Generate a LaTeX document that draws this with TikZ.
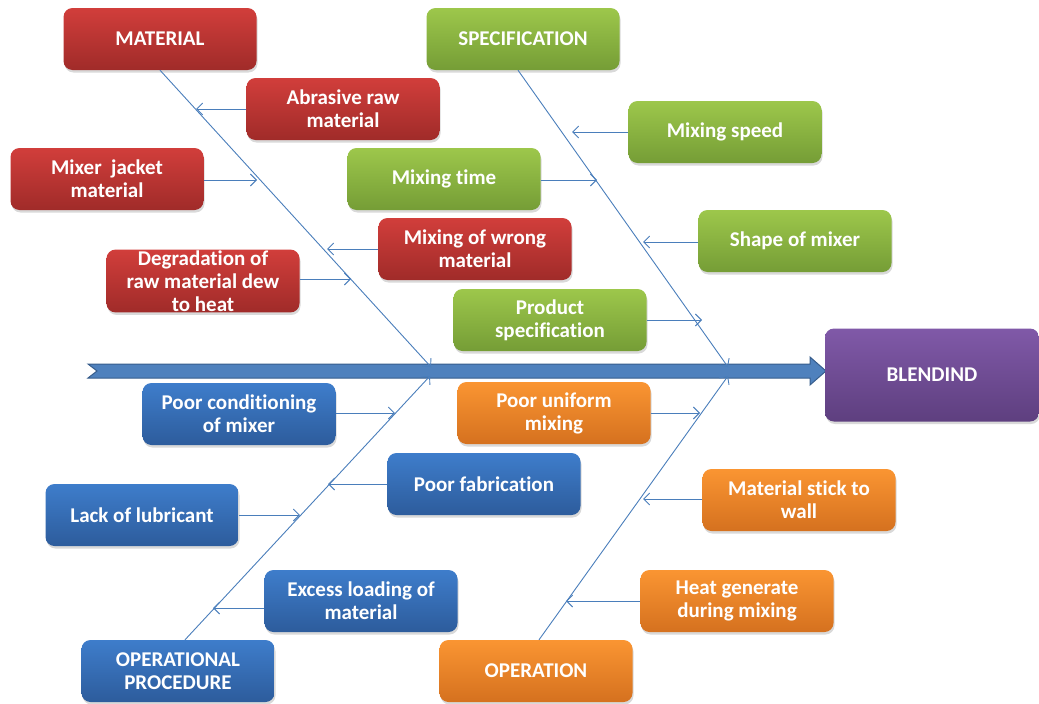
\documentclass[tikz,border=0pt]{standalone}
\usepackage{fontspec}
\setmainfont{Carlito}[Ligatures={NoCommon}]
\usetikzlibrary{arrows.meta,shadows}
\definecolor{redT}{HTML}{D13E3B}
\definecolor{redB}{HTML}{A02B29}
\definecolor{grnT}{HTML}{9DC74B}
\definecolor{grnB}{HTML}{759D36}
\definecolor{bluT}{HTML}{3E7DCB}
\definecolor{bluB}{HTML}{2D5C9C}
\definecolor{orgT}{HTML}{FA9532}
\definecolor{orgB}{HTML}{D5711F}
\definecolor{purT}{HTML}{8059A8}
\definecolor{purB}{HTML}{5E3F7F}
\definecolor{lineC}{HTML}{4A7EBB}
\definecolor{spineF}{HTML}{4F81BD}
\definecolor{spineD}{HTML}{375D8C}
\tikzset{
  box/.style={rounded corners=9pt, minimum width=193pt, minimum height=62pt,
    text=white, font=\fontsize{21}{23}\selectfont\bfseries, align=center, inner sep=1pt,
    drop shadow={shadow xshift=1pt, shadow yshift=-2.5pt, opacity=0.3}},
  redbox/.style={box, top color=redT, bottom color=redB},
  grnbox/.style={box, top color=grnT, bottom color=grnB},
  blubox/.style={box, top color=bluT, bottom color=bluB},
  orgbox/.style={box, top color=orgT, bottom color=orgB},
  purbox/.style={box, top color=purT, bottom color=purB},
  conn/.style={draw=lineC, line width=0.9pt, -{Straight Barb[length=6pt,width=12pt]}},
  bone/.style={draw=lineC, line width=0.9pt, -{Straight Barb[length=6pt,width=12pt]}},
}
\begin{document}
\begin{tikzpicture}[x=1pt,y=-1pt]
\useasboundingbox (0,0) rectangle (1039,704);
% spine
\path[fill=spineF, draw=spineD, line width=1pt]
  (88,364) -- (810,364) -- (810,357) -- (826,371) -- (810,385) -- (810,378) -- (88,378) -- (97,371) -- cycle;
% boxes
\node[redbox] (mat) at (160,39) {MATERIAL};
\node[grnbox] (spec) at (523,39) {SPECIFICATION};
\node[redbox] (abr) at (343,109) {Abrasive raw\\material};
\node[grnbox] (mspeed) at (725,132) {Mixing speed};
\node[redbox] (jack) at (107,179) {Mixer\ \ jacket\\material};
\node[grnbox] (mtime) at (444,179) {Mixing time};
\node[redbox] (wrong) at (475,249) {Mixing of wrong\\material};
\node[grnbox] (shape) at (795,241) {Shape of mixer};
\node[redbox] (degr) at (203,281) {Degradation of\\raw material dew\\to heat};
\node[grnbox] (prod) at (550,320) {Product\\specification};
\node[purbox, minimum width=214pt, minimum height=93pt] (blend) at (932,375) {BLENDIND};
\node[blubox] (cond) at (239,414) {Poor conditioning\\of mixer};
\node[orgbox] (unif) at (554,413) {Poor uniform\\mixing};
\node[blubox] (fab) at (484,484) {Poor fabrication};
\node[blubox] (lub) at (142,515) {Lack of lubricant};
\node[orgbox] (stick) at (799,500) {Material stick to\\wall};
\node[blubox] (exc) at (361,601) {Excess loading of\\material};
\node[orgbox] (heat) at (737,601) {Heat generate\\during mixing};
\node[blubox] (opp) at (178,671) {OPERATIONAL\\PROCEDURE};
\node[orgbox] (oper) at (536,671) {OPERATION};
% junctions on spine
\coordinate (j1) at (431,367);
\coordinate (j2) at (728,367);
\coordinate (j3) at (430,376);
\coordinate (j4) at (728,376);
% bones
\draw[bone] (mat.south) -- (j1);
\draw[bone] ([xshift=-5pt]spec.south) -- (j2);
\draw[bone] ([xshift=7pt]opp.north) -- (j3);
\draw[bone] ([xshift=3pt]oper.north) -- (j4);
% arrow ends on bones
\coordinate (a1) at (196,109);
\coordinate (a2) at (257,180);
\coordinate (a3) at (327,249);
\coordinate (a4) at (351,279);
\coordinate (a5) at (572,132);
\coordinate (a6) at (597,180);
\coordinate (a7) at (643,242);
\coordinate (a8) at (702,320);
\coordinate (a9) at (395,413);
\coordinate (a10) at (328,484);
\coordinate (a11) at (300,515);
\coordinate (a12) at (213,608);
\coordinate (a13) at (700,413);
\coordinate (a14) at (643,499);
\coordinate (a15) at (566,601);
% connectors
\draw[conn] (abr.west) -- (a1);
\draw[conn] (jack.east |- a2) -- (a2);
\draw[conn] (wrong.west) -- (a3);
\draw[conn] (degr.east |- a4) -- (a4);
\draw[conn] (mspeed.west) -- (a5);
\draw[conn] (mtime.east |- a6) -- (a6);
\draw[conn] (shape.west |- a7) -- (a7);
\draw[conn] (prod.east) -- (a8);
\draw[conn] (cond.east |- a9) -- (a9);
\draw[conn] (fab.west) -- (a10);
\draw[conn] (lub.east) -- (a11);
\draw[conn] (exc.west |- a12) -- (a12);
\draw[conn] (unif.east) -- (a13);
\draw[conn] (stick.west |- a14) -- (a14);
\draw[conn] (heat.west) -- (a15);
\end{tikzpicture}
\end{document}
